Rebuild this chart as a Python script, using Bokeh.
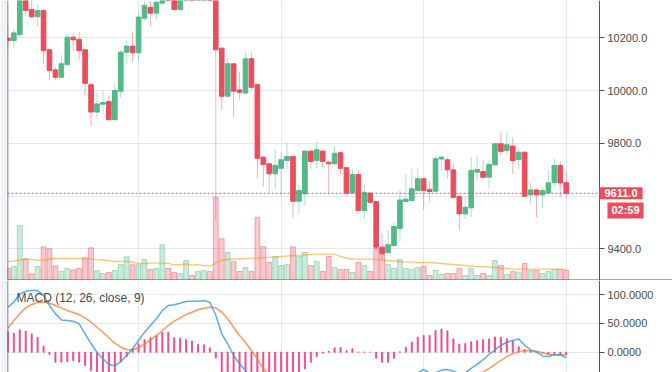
from bokeh.plotting import figure
from bokeh.models import (Range1d, FixedTicker, PrintfTickFormatter, Span, Label,
                          ColumnDataSource, Grid)
from bokeh.layouts import column
from bokeh.embed import file_html
from bokeh.resources import INLINE

# ---------------- data ----------------
open_ = [10199, 10190, 10212, 10360, 10308, 10280, 10304, 10155, 10079, 10051,
         10099, 10203, 10195, 10155, 10023, 9919, 9949, 9959, 9890, 9998,
         10146, 10169, 10144, 10275, 10316, 10294, 10332, 10380, 10360, 10308,
         10370, 10400, 10390, 10410, 10425, 10410, 10161, 9979, 10102, 10003,
         9991, 10121, 10023, 9748, 9723, 9685, 9706, 9735, 9751, 9581,
         9609, 9771, 9735, 9771, 9729, 9723, 9765, 9708, 9612, 9682,
         9546, 9612, 9580, 9407, 9386, 9413, 9477, 9580, 9584, 9622,
         9666, 9626, 9619, 9741, 9738, 9700, 9599, 9533, 9556, 9691,
         9694, 9672, 9719, 9799, 9773, 9790, 9739, 9767, 9605, 9624,
         9605, 9612, 9651, 9717, 9651]
high_ = [10247, 10235, 10375, 10370, 10350, 10327, 10310, 10160, 10089, 10136,
         10216, 10217, 10222, 10165, 10031, 9992, 10001, 9984, 10030, 10152,
         10190, 10222, 10298, 10342, 10345, 10350, 10380, 10395, 10365, 10385,
         10420, 10410, 10425, 10440, 10435, 10420, 10165, 10125, 10104, 10073,
         10144, 10144, 10025, 9754, 9728, 9780, 9767, 9801, 9753, 9648,
         9773, 9773, 9807, 9775, 9735, 9792, 9767, 9710, 9704, 9700,
         9645, 9615, 9582, 9458, 9470, 9502, 9625, 9685, 9704, 9704,
         9670, 9660, 9754, 9754, 9748, 9723, 9600, 9596, 9748, 9751,
         9738, 9738, 9801, 9843, 9843, 9824, 9782, 9769, 9653, 9626,
         9634, 9700, 9742, 9732, 9694]
low_ = [10155, 10163, 10205, 10285, 10278, 10244, 10102, 10042, 10039, 10049,
        10092, 10152, 10118, 9982, 9865, 9894, 9912, 9888, 9888, 9972,
        10102, 10108, 10111, 10266, 10244, 10272, 10325, 10348, 10303, 10305,
        10360, 10375, 10380, 10400, 10390, 9508, 9925, 9977, 9900, 9967,
        9989, 10001, 9668, 9634, 9612, 9628, 9603, 9704, 9518, 9533,
        9565, 9704, 9704, 9710, 9612, 9720, 9682, 9603, 9610, 9544,
        9514, 9575, 9398, 9356, 9384, 9410, 9428, 9578, 9582, 9620,
        9549, 9580, 9617, 9698, 9668, 9594, 9470, 9514, 9521, 9660,
        9668, 9630, 9717, 9754, 9761, 9685, 9704, 9598, 9569, 9521,
        9556, 9610, 9638, 9596, 9593]
close_ = [10190, 10219, 10360, 10304, 10280, 10304, 10152, 10077, 10051, 10102,
          10203, 10193, 10152, 10028, 9919, 9950, 9955, 9890, 10001, 10146,
          10169, 10144, 10279, 10323, 10294, 10335, 10368, 10360, 10308, 10370,
          10400, 10390, 10410, 10425, 10410, 10155, 9979, 10102, 9998, 9994,
          10121, 10013, 9744, 9720, 9685, 9717, 9738, 9751, 9581, 9622,
          9771, 9732, 9776, 9732, 9723, 9763, 9706, 9612, 9682, 9546,
          9615, 9577, 9407, 9382, 9416, 9485, 9586, 9589, 9628, 9666,
          9622, 9618, 9742, 9748, 9700, 9596, 9533, 9558, 9698, 9701,
          9672, 9720, 9799, 9770, 9795, 9735, 9767, 9600, 9624, 9605,
          9622, 9651, 9717, 9650, 9611]
volume = [12.3, 14, 55, 21.7, 6.7, 14, 33.7, 31.7, 14.7, 9,
          12, 10.7, 12, 22.7, 32.7, 10, 7, 8, 10, 16,
          23.7, 15.7, 15.7, 21, 11, 12, 35.7, 12, 8, 7,
          20, 5, 9, 10, 9, 83, 41.7, 28, 19, 9,
          13, 9, 63.3, 34, 18, 24, 15, 16, 33.7, 24,
          28, 15, 19, 9, 24, 13, 11, 11, 8, 18,
          15, 9, 32, 32, 16, 12, 21, 12, 11, 13,
          14.3, 5, 10, 6, 7, 7, 12, 5, 12, 5,
          7, 5, 20, 15, 6, 9, 8.3, 17, 10, 10,
          7, 9, 11, 11, 10]
volume_ma = [19, 19.5, 20.5, 21.3, 21, 20.5, 20.3, 21.5, 22, 22,
             22, 22, 22, 21.7, 21.3, 20.8, 20.5, 19.8, 19, 19,
             19, 18.5, 17, 17, 17.3, 17.3, 17.3, 17.2, 15.7, 16,
             16.3, 15.5, 15.8, 15, 14.2, 17.3, 20.5, 21, 21.5, 21.5,
             22, 22.3, 22.5, 23, 23.2, 23.5, 24, 24.5, 25, 25.3,
             25.7, 26, 26.3, 26.3, 26.3, 26.3, 24, 22.5, 21.5, 21.3,
             21.3, 21.3, 21, 20.7, 20, 19.5, 19, 18.7, 18.3, 18,
             18, 17.8, 17.5, 17, 16.5, 16.2, 15.5, 15, 14.5, 14,
             13.8, 13.5, 13, 12.5, 12, 11.5, 11.3, 11.3, 11.3, 11.3,
             11.3, 11.3, 11.3, 11.3, 11.3]
macd = [78, 86.7, 101, 105.7, 107, 107, 98.3, 81, 66.5, 56,
        55, 53.7, 49.2, 31.9, 14.6, 0, -11.5, -21.3, -23.6, -16.1,
        -5.7, 5.9, 20.3, 34.7, 46.3, 57.9, 72.3, 81, 82.1, 84.9,
        87.9, 88.4, 88.4, 89.6, 86.7, 64, 31.9, 14.6, -5.7, -20.1,
        -31.7, -42, -55, -68, -78, -86, -96, -104, -112, -114,
        -110, -101, -90, -82, -76, -68, -64, -68, -61, -65,
        -63, -62, -72, -80, -82, -77, -67, -59, -49, -36,
        -30, -36, -36, -31, -30, -33, -37, -36, -28, -21,
        -13, -4, 4, 12, 17.3, 20.5, 23, 12, 4, 0,
        -6.5, -7.5, -5, -4.5, -9.7]
signal = [41.6, 55, 66.5, 76.9, 82.7, 86.1, 86.7, 84.9, 81, 76.9,
          72.3, 68.8, 65.3, 59.6, 52, 43.3, 34.7, 25, 15.6, 8.7,
          4.7, 4.2, 7.6, 14.6, 21.5, 29, 37.6, 46.3, 53.7, 59.6,
          65.3, 69.3, 73.5, 76.3, 78, 76.9, 69.3, 57.9, 43.3, 29,
          17.3, 2.9, -11.5, -28.8, -40, -50, -60, -68, -75, -80,
          -83, -83, -82, -80, -78, -75, -72, -70, -67, -65,
          -63, -62, -62, -63, -65, -67, -68, -68, -66, -62,
          -58, -54, -50, -46, -42, -40, -39, -38, -37, -36,
          -34.7, -28, -21, -14, -7.5, -2.5, 1, 2.9, 2.5, 1.7,
          -1, -3.5, -4.5, -4.5, -4]
hist = [36.4, 33, 38.7, 36.4, 31.8, 26, 10.4, -4, -17.3, -17.3,
        -16.2, -14.5, -17.3, -23.1, -31.8, -40, -45, -47, -40, -17.3,
        -7.5, 5.9, 14.6, 21.5, 25, 29, 34, 34.7, 25, 24.3,
        22, 19.5, 13.5, 12.7, 7.5, -10, -38, -44, -49, -49,
        -49, -45, -44, -40, -38, -36, -38, -38, -37, -36,
        -28.8, -17.3, -7.5, -1.7, 1.7, 7.5, 8, 2.5, 6, 0,
        0, 0, -10.4, -17.3, -17.3, -10.4, 0.6, 8.7, 17.3, 26,
        28.9, 28.9, 37.6, 40.4, 37, 23, 14, 15, 18, 20,
        22, 23, 26.5, 26, 23.5, 19.5, 9.5, 4.3, 1.7, 0.5,
        -1.7, -4, -4, -3, -4]
price_ticks = [9400, 9600, 9800, 10000, 10200]
macd_ticks = [0, 50, 100]
time_grid = [22, 46, 70, 94]
last_price = 9611.0
countdown = "02:59"

# ---------------- styling ----------------
UP = "#53b987"
DOWN = "#eb4d5c"
GRID = "#e3e9ef"
AXIS = "#555555"
TXT = "#4a4a4a"
FONT = "Liberation Sans"
X0, AXIS_X, X1 = -0.067, 99.6, 111.89

n = len(close_)
xs = list(range(n))
colors = [UP if c >= o else DOWN for o, c in zip(open_, close_)]
src = ColumnDataSource(dict(
    x=xs, open=open_, high=high_, low=low_, close=close_,
    top=[max(o, c) for o, c in zip(open_, close_)],
    bottom=[min(o, c) for o, c in zip(open_, close_)],
    color=colors, vol=volume, vol_ma=volume_ma,
    macd=macd, signal=signal, hist=hist,
))

xr = Range1d(X0, X1)


def style_axis(fig, ticks, fmt):
    ax = fig.yaxis[0]
    ax.fixed_location = AXIS_X
    ax.ticker = FixedTicker(ticks=ticks)
    ax.formatter = PrintfTickFormatter(format=fmt)
    ax.axis_line_color = AXIS
    ax.major_tick_line_color = AXIS
    ax.major_tick_out = 5
    ax.major_tick_in = 0
    ax.minor_tick_line_color = None
    ax.major_label_text_font = FONT
    ax.major_label_text_font_size = "11px"
    ax.major_label_text_color = TXT
    ax.major_label_standoff = 3


def base_fig(height, yr, yticks, fmt):
    f = figure(width=672, height=height, x_range=xr, y_range=yr,
               output_backend="svg", toolbar_location=None,
               x_axis_location=None, y_axis_location="right",
               min_border_left=7, min_border_right=0,
               min_border_top=0, min_border_bottom=0)
    f.outline_line_color = None
    f.border_fill_color = "#eff2f6"
    f.grid.visible = False
    f.add_layout(Grid(dimension=0, ticker=FixedTicker(ticks=time_grid),
                      grid_line_color=GRID, grid_line_width=1))
    f.add_layout(Grid(dimension=1, ticker=FixedTicker(ticks=yticks),
                      grid_line_color=GRID, grid_line_width=1))
    # white price-scale area to the right of the axis line
    f.quad(left=AXIS_X, right=X1, bottom=yr.start, top=yr.end,
           fill_color="white", line_color=None)
    f.add_layout(Span(location=X0, dimension="height", line_color=AXIS,
                      line_width=1.5))
    style_axis(f, yticks, fmt)
    return f


# ---------------- price pane ----------------
p = base_fig(280, Range1d(9280.6, 10341.9), price_ticks, "%.1f")
p.extra_y_ranges = {"vol": Range1d(0, 280)}
p.yaxis[0].major_label_overrides = {9600: ""}

p.vbar(x="x", width=0.82, top="vol", bottom=0, y_range_name="vol",
       fill_color="color", fill_alpha=0.3, line_color="color",
       line_alpha=0.42, source=src)
p.line(x="x", y="vol_ma", y_range_name="vol", line_color="#ff9800",
       line_alpha=0.55, line_width=1.3, source=src)
p.segment(x0="x", y0="low", x1="x", y1="high", line_color="color",
          line_alpha=0.45, line_width=1, source=src)
p.vbar(x="x", width=0.78, top="top", bottom="bottom", fill_color="color",
       line_color="color", source=src)

# last-price line up to the price scale
p.segment(x0=X0, x1=AXIS_X, y0=last_price, y1=last_price, line_color=DOWN,
          line_dash="2 2", line_width=1)
p.add_layout(Span(location=0, dimension="width", y_range_name="vol",
                  line_color=AXIS, line_width=2))

p.add_layout(Label(x=AXIS_X, y=last_price, text="%.1f" % last_price,
                   text_align="left", text_baseline="middle",
                   text_font=FONT, text_font_size="11px",
                   text_font_style="bold", text_color="white",
                   background_fill_color=DOWN, padding=(5, 2)))
p.add_layout(Label(x=100.94, y=9546, text=countdown,
                   text_align="left", text_baseline="middle",
                   text_font=FONT, text_font_size="11px",
                   text_font_style="bold", text_color="white",
                   background_fill_color=DOWN, padding=(4, 2)))

# ---------------- MACD pane ----------------
m = base_fig(92, Range1d(-35.2, 124.3), macd_ticks, "%.4f")

m.vbar(x="x", width=0.18, top="hist", bottom=0, fill_color="#f03a7f",
       line_color="#f03a7f", fill_alpha=0.8, line_alpha=0.8, source=src)
m.line(x="x", y="signal", line_color="#ff7f2a", line_alpha=0.8,
       line_width=1.5, source=src)
m.line(x="x", y="macd", line_color="#3d9cf0", line_alpha=0.85,
       line_width=1.5, source=src)
m.add_layout(Label(x=1.45, y=94.8, text="MACD (12, 26, close, 9)",
                   text_align="left", text_baseline="middle",
                   text_font=FONT, text_font_size="12px", text_color=TXT))

layout = column(p, m, spacing=0)
open("out.html", "w").write(file_html(layout, INLINE))
